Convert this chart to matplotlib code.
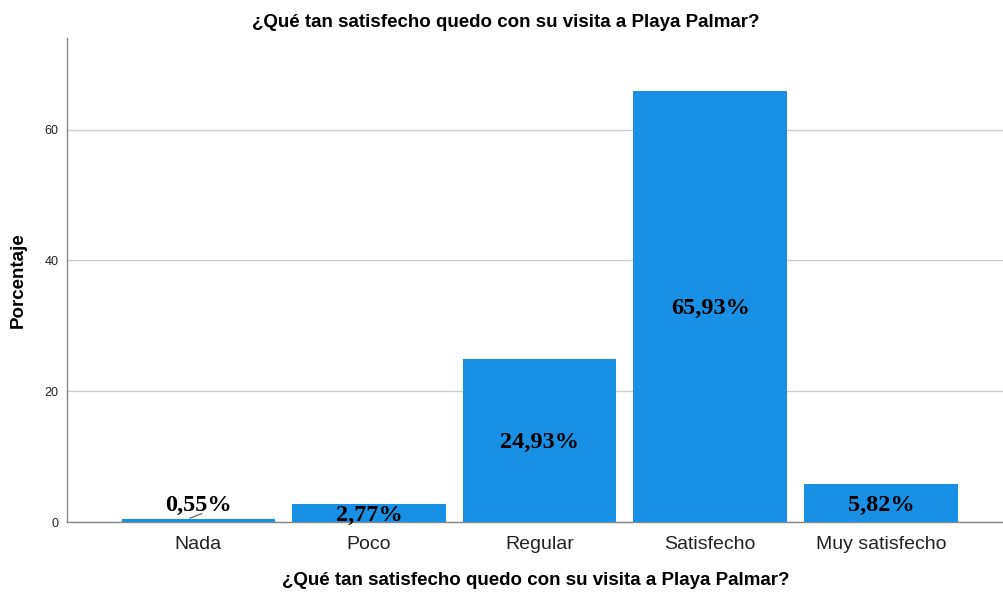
import matplotlib
matplotlib.use("Agg")
import matplotlib.pyplot as plt

# data
categorias = ["Nada", "Poco", "Regular", "Satisfecho", "Muy satisfecho"]
porcentajes = [0.55, 2.77, 24.93, 65.93, 5.82]
etiquetas = ["0,55%", "2,77%", "24,93%", "65,93%", "5,82%"]
y_ticks = [0, 20, 40, 60]

titulo = "¿Qué tan satisfecho quedo con su visita a Playa Palmar?"

plt.rcParams['font.family'] = ['Liberation Sans', 'DejaVu Sans']

fig = plt.figure(figsize=(10.04, 5.92), dpi=100)
ax = fig.add_axes([0.0667, 0.118, 0.933, 0.818])

x = list(range(len(categorias)))
ax.bar(x, porcentajes, width=0.9, color='#1790e5', zorder=3)

ax.set_xlim(-0.77, 4.72)
ax.set_ylim(0, 74)
ax.set_yticks(y_ticks)
ax.set_xticks(x)
ax.set_xticklabels(categorias, fontsize=14, color='#222222')
ax.tick_params(axis='y', labelsize=9, length=0, pad=6, colors='#222222')
ax.tick_params(axis='x', length=0, pad=10)
ax.grid(axis='y', color='#cccccc', linewidth=1, zorder=0)

for s in ['top', 'right']:
    ax.spines[s].set_visible(False)
for s in ['left', 'bottom']:
    ax.spines[s].set_color('#888888')
    ax.spines[s].set_linewidth(1)

# value labels
for i, (v, t) in enumerate(zip(porcentajes, etiquetas)):
    ypos = v / 2
    if v < 1:
        ypos = 2.9
        ax.plot([i + 0.02, i - 0.05], [1.3, 0.6], color='#555555', lw=0.8, zorder=4)
    ax.text(i, ypos - 0.3, t, ha='center', va='center', fontsize=17.5, fontweight='bold',
            family='Liberation Serif', color='black', zorder=5)

fig.text(0.504, 0.962, titulo, ha='center', va='center', fontsize=13.5, fontweight='bold')
ax.set_xlabel(titulo, fontsize=13.5, fontweight='bold', labelpad=14)
ax.set_ylabel("Porcentaje", fontsize=13.5, fontweight='bold')
ax.yaxis.set_label_coords(-0.043, 0.5)

fig.savefig("out.png", dpi=100)
